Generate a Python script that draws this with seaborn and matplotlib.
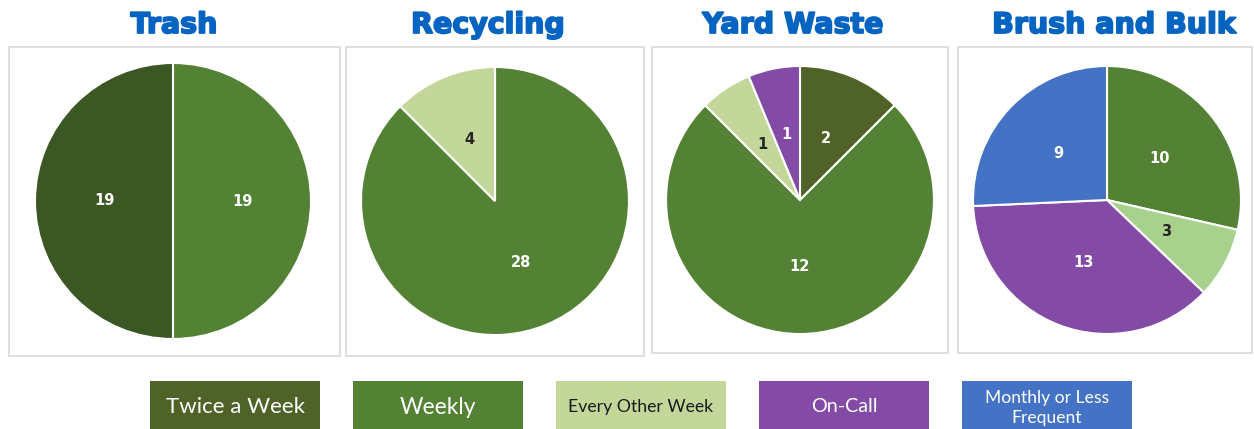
import matplotlib.pyplot as plt
import seaborn as sns
from matplotlib.patches import Rectangle
import matplotlib.patheffects as pe

# legend categories and their colours
categories = ["Twice a Week", "Weekly", "Every Other Week", "On-Call",
              "Monthly or Less\nFrequent"]
legend_colors = ["#4F6228", "#548235", "#C4D79B", "#834BA5", "#4472C4"]
legend_text = ["white", "white", "#1a1a1a", "white", "white"]
legend_size = [16, 16.4, 12.7, 14.2, 12.6]

# pie data, slices listed clockwise from 12 o'clock
trash_cats = ["Weekly", "Twice a Week"]
trash_vals = [19, 19]
trash_cols = ["#548235", "#3A5724"]

recyc_cats = ["Weekly", "Every Other Week"]
recyc_vals = [28, 4]
recyc_cols = ["#548235", "#C4D79B"]

yard_cats = ["Twice a Week", "Weekly", "Every Other Week", "On-Call"]
yard_vals = [2, 12, 1, 1]
yard_cols = ["#4F6228", "#548235", "#C4D79B", "#834BA5"]

brush_cats = ["Weekly", "Every Other Week", "On-Call", "Monthly"]
brush_vals = [10, 3, 13, 9]
brush_cols = ["#548235", "#A9D18E", "#834BA5", "#4472C4"]

titles = ["Trash", "Recycling", "Yard Waste", "Brush and Bulk"]

W, H = 1254, 429
sns.set_theme(style="white")
plt.rcParams["font.family"] = ["DejaVu Sans"]

fig = plt.figure(figsize=(W / 100, H / 100), dpi=100)


def fx(x):
    return x / W


def fy(y):
    return 1 - y / H


panels = [
    # title x, frame (x0, x1, y0, y1), pie centre, radius
    (174, (9, 340, 47, 356), (173, 201), 138, trash_cats, trash_vals, trash_cols),
    (488, (346, 644, 47, 356), (495, 201), 134, recyc_cats, recyc_vals, recyc_cols),
    (793, (652, 948, 47, 353), (800, 200), 134, yard_cats, yard_vals, yard_cols),
    (1114, (958, 1252, 47, 353), (1107, 200), 134, brush_cats, brush_vals, brush_cols),
]

for title, (tx, frame, (cx, cy), r, cats, vals, cols) in zip(titles, panels):
    x0, x1, y0, y1 = frame
    fig.add_artist(Rectangle((fx(x0), fy(y1)), fx(x1 - x0), (y1 - y0) / H,
                             transform=fig.transFigure, fill=False,
                             edgecolor="#D9D9D9", linewidth=1.2))
    fig.text(fx(tx), fy(25), title, ha="center", va="center",
             fontsize=20.5, fontweight="bold", color="#0563C1",
             path_effects=[pe.withStroke(linewidth=1.3, foreground="#0563C1")])

    ax = fig.add_axes([fx(cx - r), fy(cy + r), 2 * r / W, 2 * r / H])
    wedges, texts = ax.pie(vals, labels=[str(v) for v in vals], colors=cols,
                           startangle=90, counterclock=False, labeldistance=0.5,
                           wedgeprops=dict(edgecolor="white", linewidth=1.5),
                           textprops=dict(fontsize=10.5, fontweight="bold",
                                          ha="center", va="center"))
    for t, c in zip(texts, cats):
        t.set_color("#262626" if c == "Every Other Week" else "white")
    ax.set_xlim(-1, 1)
    ax.set_ylim(-1, 1)
    ax.set_axis_off()

# legend row of coloured boxes
box_left = [150, 353, 556, 759, 962]
for xl, lab, col, tc, size in zip(box_left, categories, legend_colors,
                                  legend_text, legend_size):
    fig.add_artist(Rectangle((fx(xl), fy(429)), fx(170), 48 / H,
                             transform=fig.transFigure, facecolor=col,
                             edgecolor="none"))
    ty = 408 if "\n" in lab else 407
    fig.text(fx(xl + 85), fy(ty), lab, ha="center", va="center",
             fontsize=size, color=tc, family="Lato", linespacing=1.35)

plt.savefig("out.png", dpi=100)
plt.close()
